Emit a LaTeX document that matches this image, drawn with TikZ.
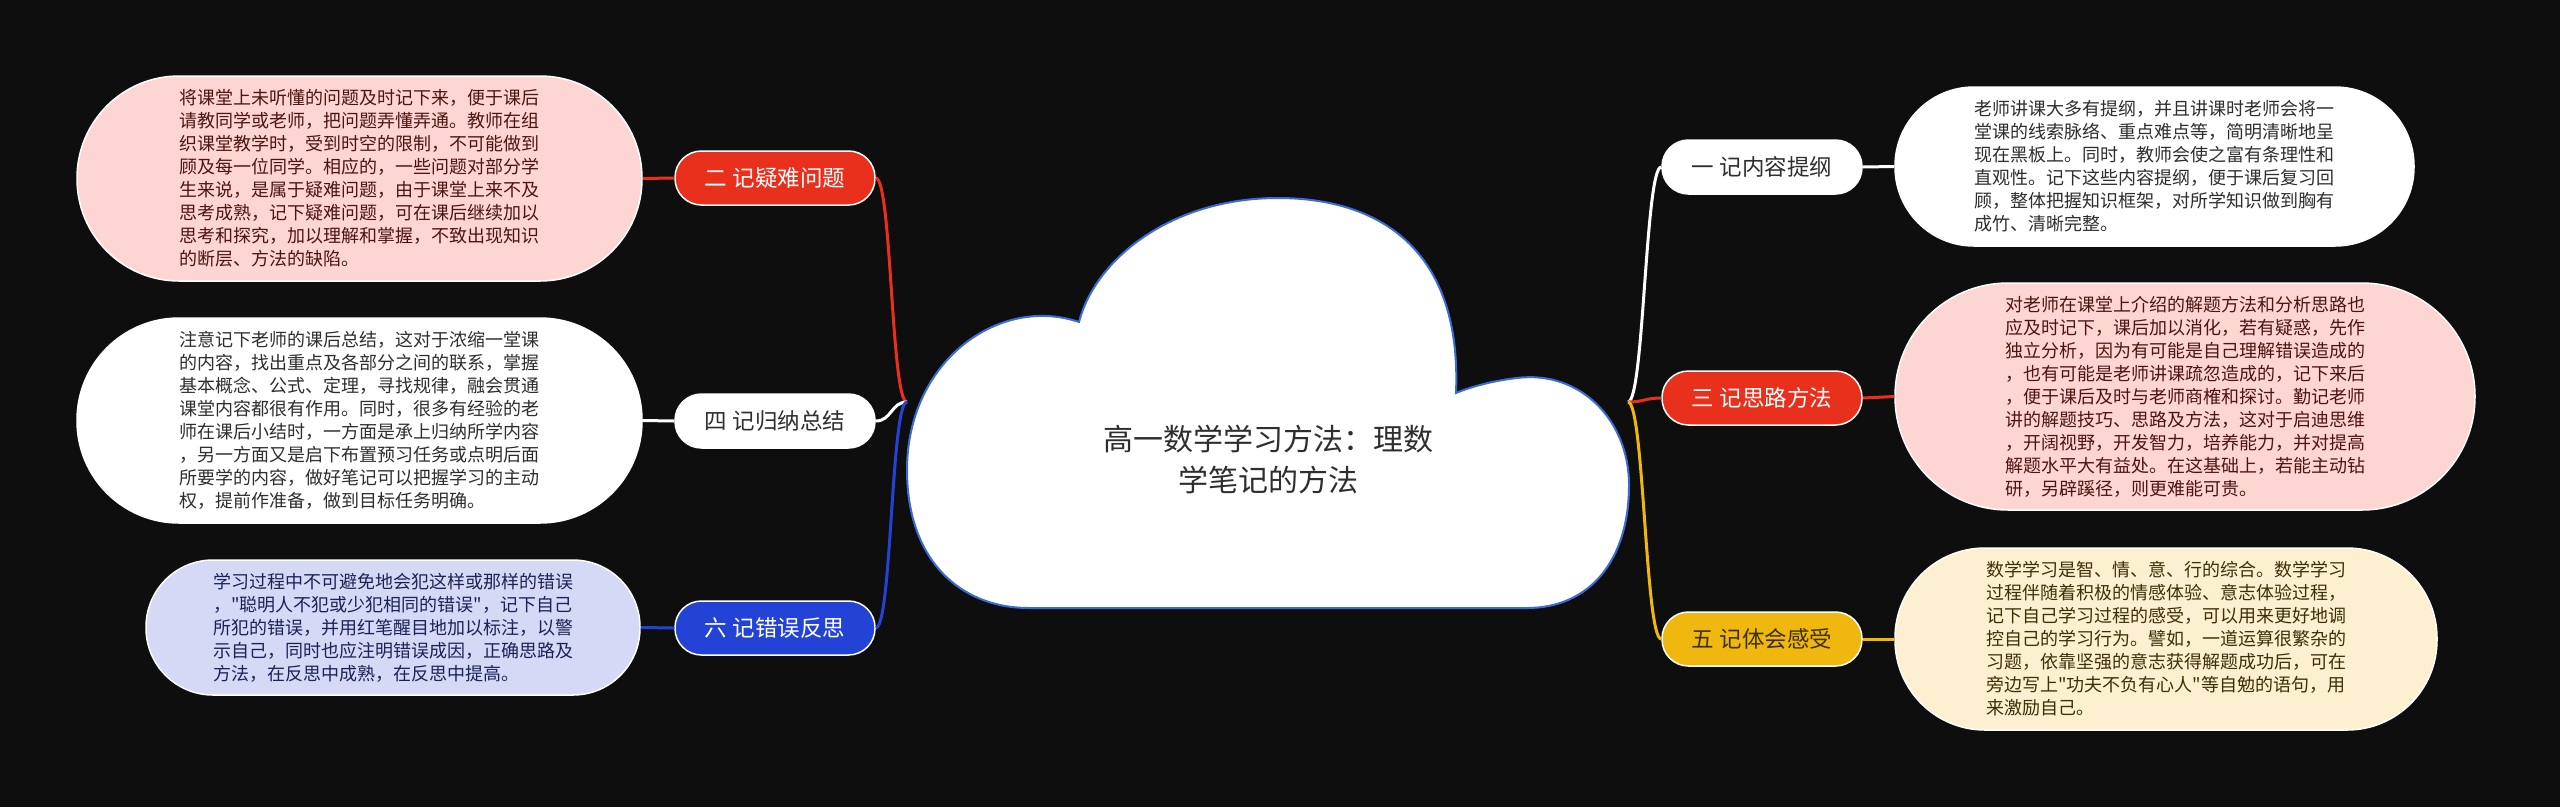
\documentclass[tikz,border=0pt]{standalone}
\usepackage{fontspec}
\setmainfont{Noto Sans CJK SC}
\newfontfamily\cjk{Noto Sans CJK SC}
\definecolor{bg}{HTML}{0E0E0E}
\definecolor{cred}{HTML}{E8301C}
\definecolor{cblue}{HTML}{2343D6}
\definecolor{cgold}{HTML}{F0B70F}
\definecolor{pinkfill}{HTML}{FDD6D3}
\definecolor{lavfill}{HTML}{D5D9F5}
\definecolor{creamfill}{HTML}{FCF0D0}
\definecolor{darkred}{HTML}{4E1410}
\definecolor{darknavy}{HTML}{1B2258}
\definecolor{darkbrown}{HTML}{3E3005}
\definecolor{darkgray}{HTML}{2E2E2E}
\definecolor{cloudline}{HTML}{3B6BD6}
\begin{document}
\cjk
\begin{tikzpicture}[x=1pt,y=-1pt,
  detail/.style={draw=white, line width=1.5pt, align=left, text width=360pt, inner sep=0pt,
    font=\cjk\fontsize{18}{23}\selectfont},
  branch/.style={draw=white, line width=1.5pt, minimum width=200pt, minimum height=54pt,
    rounded corners=26.5pt, inner sep=0pt, font=\cjk\fontsize{22.5}{27}\selectfont},
  link/.style={line width=3pt},
]
\fill[bg] (0,0) rectangle (2560,807);
\useasboundingbox (0,0) rectangle (2560,807);

% cloud
\draw[fill=white, draw=cloudline, line width=2pt]
  (1029,608) -- (1527,608)
  .. controls (1590,608) and (1629,560) .. (1629,485)
  .. controls (1629,420) and (1580,370) .. (1517,378)
  .. controls (1490,381) and (1468,388) .. (1456,393)
  .. controls (1462,250) and (1380,198) .. (1278,198)
  .. controls (1170,198) and (1095,260) .. (1079,322)
  .. controls (1000,295) and (907,360) .. (907,470)
  .. controls (907,560) and (960,608) .. (1029,608) -- cycle;
\node[align=center, text=darkgray, font=\cjk\fontsize{30}{41}\selectfont] (center) at (1268,459)
  {高一数学学习方法：理数\\学笔记的方法};

\coordinate (jl) at (907,402);
\coordinate (jr) at (1628,402);

% branches
\node[branch, fill=cred, text=white] (L2) at (775,178) {二 记疑难问题};
\node[branch, fill=white, text=darkgray] (L4) at (775,421) {四 记归纳总结};
\node[branch, fill=cblue, text=white] (L6) at (775,628) {六 记错误反思};
\node[branch, fill=white, text=darkgray] (R1) at (1762,167) {一 记内容提纲};
\node[branch, fill=cred, text=white] (R3) at (1762,398) {三 记思路方法};
\node[branch, fill=cgold, text=darkbrown] (R5) at (1762,639) {五 记体会感受};

% details
\node[detail, fill=pinkfill, text=darkred, minimum width=565pt, minimum height=205pt, rounded corners=102pt] (D2) at (359.5,178.5)
{将课堂上未听懂的问题及时记下来，便于课后\\
请教同学或老师，把问题弄懂弄通。教师在组\\
织课堂教学时，受到时空的限制，不可能做到\\
顾及每一位同学。相应的，一些问题对部分学\\
生来说，是属于疑难问题，由于课堂上来不及\\
思考成熟，记下疑难问题，可在课后继续加以\\
思考和探究，加以理解和掌握，不致出现知识\\
的断层、方法的缺陷。};

\node[detail, fill=white, text=darkgray, minimum width=565pt, minimum height=205pt, rounded corners=102pt] (D4) at (359.5,420.5)
{注意记下老师的课后总结，这对于浓缩一堂课\\
的内容，找出重点及各部分之间的联系，掌握\\
基本概念、公式、定理，寻找规律，融会贯通\\
课堂内容都很有作用。同时，很多有经验的老\\
师在课后小结时，一方面是承上归纳所学内容\\
，另一方面又是启下布置预习任务或点明后面\\
所要学的内容，做好笔记可以把握学习的主动\\
权，提前作准备，做到目标任务明确。};

\node[detail, fill=lavfill, text=darknavy, minimum width=494pt, minimum height=135pt, rounded corners=67pt] (D6) at (393,627.5)
{学习过程中不可避免地会犯这样或那样的错误\\
，"聪明人不犯或少犯相同的错误"，记下自己\\
所犯的错误，并用红笔醒目地加以标注，以警\\
示自己，同时也应注明错误成因，正确思路及\\
方法，在反思中成熟，在反思中提高。};

\node[detail, fill=white, text=darkgray, minimum width=519pt, minimum height=159pt, rounded corners=79pt] (D1) at (2154.5,166.5)
{老师讲课大多有提纲，并且讲课时老师会将一\\
堂课的线索脉络、重点难点等，简明清晰地呈\\
现在黑板上。同时，教师会使之富有条理性和\\
直观性。记下这些内容提纲，便于课后复习回\\
顾，整体把握知识框架，对所学知识做到胸有\\
成竹、清晰完整。};

\node[detail, fill=pinkfill, text=darkred, minimum width=580pt, minimum height=227pt, rounded corners=113pt] (D3) at (2185,396.5)
{对老师在课堂上介绍的解题方法和分析思路也\\
应及时记下，课后加以消化，若有疑惑，先作\\
独立分析，因为有可能是自己理解错误造成的\\
，也有可能是老师讲课疏忽造成的，记下来后\\
，便于课后及时与老师商榷和探讨。勤记老师\\
讲的解题技巧、思路及方法，这对于启迪思维\\
，开阔视野，开发智力，培养能力，并对提高\\
解题水平大有益处。在这基础上，若能主动钻\\
研，另辟蹊径，则更难能可贵。};

\node[detail, fill=creamfill, text=darkbrown, minimum width=542pt, minimum height=182pt, rounded corners=90pt] (D5) at (2166,639)
{数学学习是智、情、意、行的综合。数学学习\\
过程伴随着积极的情感体验、意志体验过程，\\
记下自己学习过程的感受，可以用来更好地调\\
控自己的学习行为。譬如，一道运算很繁杂的\\
习题，依靠坚强的意志获得解题成功后，可在\\
旁边写上"功夫不负有心人"等自勉的语句，用\\
来激励自己。};

% connectors center -> branches
\draw[link, cred] (jl) .. controls +(-16,0) and +(16,0) .. (L2.east);
\draw[link, white] (jl) .. controls +(-16,0) and +(16,0) .. (L4.east);
\draw[link, cblue] (jl) .. controls +(-16,0) and +(16,0) .. (L6.east);
\draw[link, white] (jr) .. controls +(16,0) and +(-16,0) .. (R1.west);
\draw[link, cred] (jr) .. controls +(16,0) and +(-16,0) .. (R3.west);
\draw[link, cgold] (jr) .. controls +(16,0) and +(-16,0) .. (R5.west);

% connectors branches -> details
\draw[link, cred] (L2.west) -- (D2.east);
\draw[link, white] (L4.west) -- (D4.east);
\draw[link, cblue] (L6.west) -- (D6.east);
\draw[link, white] (R1.east) -- (D1.west);
\draw[link, cred] (R3.east) -- (D3.west);
\draw[link, cgold] (R5.east) -- (D5.west);
\end{tikzpicture}
\end{document}
